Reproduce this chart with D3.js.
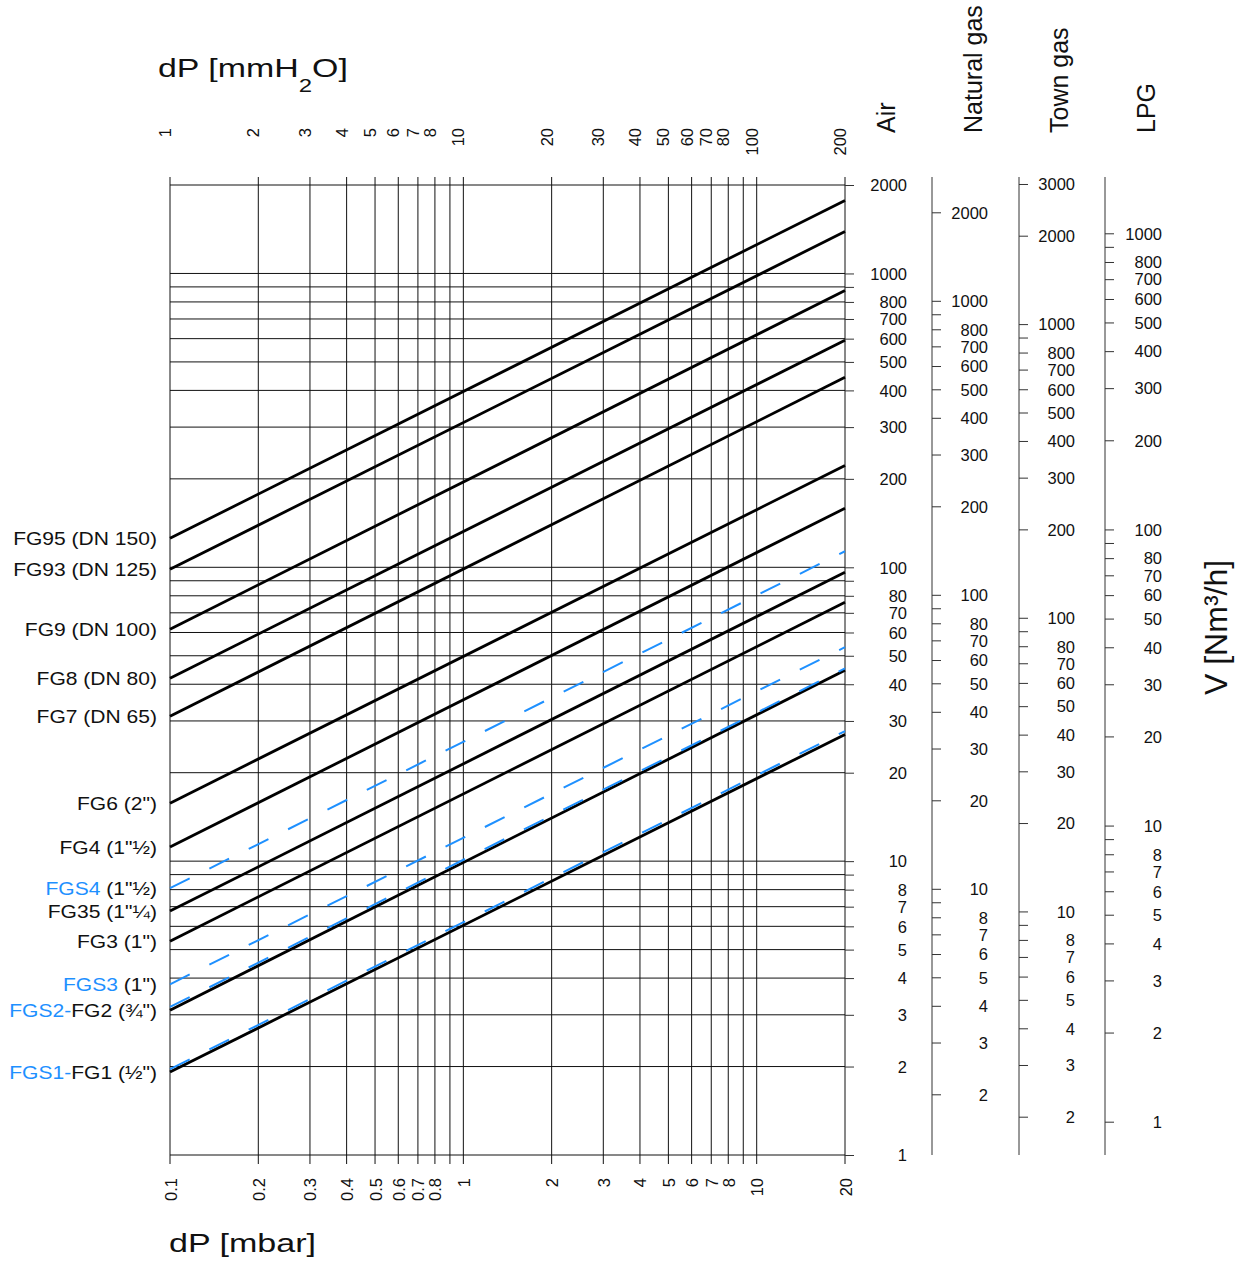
<!DOCTYPE html>
<html>
<head>
<meta charset="utf-8">
<script src="https://cdn.jsdelivr.net/npm/d3@7"></script>
<style>
  body { margin: 0; background: #fff; }
  svg text { font-family: "Liberation Sans", Arial, sans-serif; white-space: pre; }
</style>
</head>
<body>
<div id="chart"></div>
<script>
// air flow [Nm3/h] read at the two ends of each line (0.1 mbar and 20 mbar)
var blackNames = ["FG95", "FG93", "FG9", "FG8", "FG7", "FG6", "FG4", "FG35", "FG3", "FG2", "FG1"];
var blackQ01 = [125.5, 98.4, 61.6, 41.9, 31.1, 15.75, 11.17, 6.76, 5.34, 3.11, 1.915];
var blackQ20 = [1772, 1389, 875, 592, 443, 222, 158.8, 96.2, 76.0, 44.6, 27.0];

var blueNames = ["FGS4", "FGS3", "FGS2", "FGS1"];
var blueQ01 = [8.09, 3.81, 3.19, 1.96];
var blueQ20 = [113.4, 53.5, 45.3, 27.7];

// left labels: blue part, black part, line they sit on
var labelBlue = ["", "", "", "", "", "", "", "FGS4", "", "", "FGS3", "FGS2-", "FGS1-"];
var labelBlack = ["FG95 (DN 150)", "FG93 (DN 125)", "FG9 (DN 100)", "FG8 (DN 80)", "FG7 (DN 65)",
  "FG6 (2\")", "FG4 (1\"½)", " (1\"½)", "FG35 (1\"¼)", "FG3 (1\")", " (1\")", "FG2 (¾\")", "FG1 (½\")"];
var labelAt = ["FG95", "FG93", "FG9", "FG8", "FG7", "FG6", "FG4", "FGS4", "FG35", "FG3", "FGS3", "FG2", "FG1"];

// x axes
var mbarGrid = [0.1, 0.2, 0.3, 0.4, 0.5, 0.6, 0.7, 0.8, 0.9, 1, 2, 3, 4, 5, 6, 7, 8, 9, 10, 20];
var mbarLabels = [0.1, 0.2, 0.3, 0.4, 0.5, 0.6, 0.7, 0.8, 1, 2, 3, 4, 5, 6, 7, 8, 10, 20];
var mmLabels = [1, 2, 3, 4, 5, 6, 7, 8, 10, 20, 30, 40, 50, 60, 70, 80, 100, 200];
var mbarPerMm = 0.0980665;

// flow axes
var airTicks = [1, 2, 3, 4, 5, 6, 7, 8, 9, 10, 20, 30, 40, 50, 60, 70, 80, 90, 100,
  200, 300, 400, 500, 600, 700, 800, 900, 1000, 2000];
var airLabels = [1, 2, 3, 4, 5, 6, 7, 8, 10, 20, 30, 40, 50, 60, 70, 80, 100,
  200, 300, 400, 500, 600, 700, 800, 1000, 2000];
var ngTicks = [2, 3, 4, 5, 6, 7, 8, 9, 10, 20, 30, 40, 50, 60, 70, 80, 90, 100,
  200, 300, 400, 500, 600, 700, 800, 900, 1000, 2000];
var ngLabels = [2, 3, 4, 5, 6, 7, 8, 10, 20, 30, 40, 50, 60, 70, 80, 100,
  200, 300, 400, 500, 600, 700, 800, 1000, 2000];
var tgTicks = [2, 3, 4, 5, 6, 7, 8, 9, 10, 20, 30, 40, 50, 60, 70, 80, 90, 100,
  200, 300, 400, 500, 600, 700, 800, 900, 1000, 2000, 3000];
var tgLabels = [2, 3, 4, 5, 6, 7, 8, 10, 20, 30, 40, 50, 60, 70, 80, 100,
  200, 300, 400, 500, 600, 700, 800, 1000, 2000, 3000];
var lpgTicks = [1, 2, 3, 4, 5, 6, 7, 8, 9, 10, 20, 30, 40, 50, 60, 70, 80, 90, 100,
  200, 300, 400, 500, 600, 700, 800, 900, 1000];
var lpgLabels = [1, 2, 3, 4, 5, 6, 7, 8, 10, 20, 30, 40, 50, 60, 70, 80, 100,
  200, 300, 400, 500, 600, 700, 800, 1000];

var gasNames = ["Air", "Natural gas", "Town gas", "LPG"];

var w = 1246, h = 1264;
var plotL = 170, plotR = 845, plotT = 185, plotB = 1155;
var blue = "#1e90ff";
var tickFont = "16.5px";

var svg = d3.select("#chart").append("svg")
  .attr("width", w)
  .attr("height", h);

var x = d3.scaleLog().domain([0.1, 20]).range([plotL, plotR]);
var xmm = d3.scaleLog().domain([0.1 / mbarPerMm, 20 / mbarPerMm]).range([plotL, plotR]);

var yAir = d3.scaleLog().domain([1, 2000]).range([plotB, plotT]);
var yNG = d3.scaleLog().domain([2, 2000]).range([1094.3, 212.3]);
var yTG = d3.scaleLog().domain([2, 2000]).range([1116.7, 235.7]);
var yLPG = d3.scaleLog().domain([1, 1000]).range([1121.7, 233.3]);

// grid
svg.append("g").selectAll("line")
  .data(mbarGrid)
  .enter()
  .append("line")
  .attr("x1", function(d) { return x(d); })
  .attr("x2", function(d) { return x(d); })
  .attr("y1", plotT - 8)
  .attr("y2", plotB + 9)
  .attr("stroke", "#111")
  .attr("stroke-width", 1);

svg.append("g").selectAll("line")
  .data(airTicks)
  .enter()
  .append("line")
  .attr("x1", plotL)
  .attr("x2", plotR)
  .attr("y1", function(d) { return yAir(d); })
  .attr("y2", function(d) { return yAir(d); })
  .attr("stroke", "#111")
  .attr("stroke-width", 1);

// bottom labels (mbar)
var bx = svg.append("g")
  .attr("transform", "translate(0," + plotB + ")")
  .call(d3.axisBottom(x).tickValues(mbarLabels).tickSize(0).tickFormat(function(d) { return String(d); }));
bx.select(".domain").remove();
bx.selectAll("text")
  .attr("transform", "rotate(-90)")
  .attr("x", -23)
  .attr("y", 6)
  .attr("dy", 0)
  .attr("fill", "#111")
  .style("text-anchor", "end")
  .style("font-size", tickFont);

// top labels (mmH2O)
var tx = svg.append("g")
  .attr("transform", "translate(0," + plotT + ")")
  .call(d3.axisTop(xmm).tickValues(mmLabels).tickSize(0).tickFormat(function(d) { return String(d); }));
tx.select(".domain").remove();
tx.selectAll("text")
  .attr("transform", "rotate(-90)")
  .attr("x", 57)
  .attr("y", 3)
  .attr("dy", 0)
  .attr("fill", "#111")
  .style("text-anchor", "end")
  .style("font-size", tickFont);

// flow axes
function flowAxis(scale, ticks, labels, ax, labelRight, drawLine) {
  var g = svg.append("g")
    .attr("transform", "translate(" + ax + ",0)")
    .call(d3.axisRight(scale).tickValues(ticks).tickSize(9)
      .tickFormat(function(d) { return labels.indexOf(d) >= 0 ? String(d) : ""; }));
  g.select(".domain").remove();
  g.selectAll(".tick line").attr("stroke", "#333");
  g.selectAll("text")
    .attr("x", labelRight - ax)
    .attr("dy", "0.35em")
    .attr("fill", "#111")
    .style("text-anchor", "end")
    .style("font-size", tickFont);
  if (drawLine) {
    g.append("line")
      .attr("x1", 0).attr("x2", 0)
      .attr("y1", plotT - 8).attr("y2", plotB)
      .attr("stroke", "#333");
  }
}
flowAxis(yAir, airTicks, airLabels, plotR, 907, false);
flowAxis(yNG, ngTicks, ngLabels, 932, 988, true);
flowAxis(yTG, tgTicks, tgLabels, 1019, 1075, true);
flowAxis(yLPG, lpgTicks, lpgLabels, 1105, 1162, true);

// device lines
var line = d3.line()
  .x(function(d) { return x(d[0]); })
  .y(function(d) { return yAir(d[1]); });

svg.append("g").selectAll("path")
  .data(blackNames)
  .enter()
  .append("path")
  .attr("d", function(d, i) { return line([[0.1, blackQ01[i]], [20, blackQ20[i]]]); })
  .attr("stroke", "#000")
  .attr("stroke-width", 2.8)
  .attr("fill", "none");

svg.append("g").selectAll("path")
  .data(blueNames)
  .enter()
  .append("path")
  .attr("d", function(d, i) { return line([[0.1, blueQ01[i]], [20, blueQ20[i]]]); })
  .attr("stroke", blue)
  .attr("stroke-width", 2)
  .attr("stroke-dasharray", "22 22")
  .attr("fill", "none");

// left labels
function startFlow(name) {
  var i = blackNames.indexOf(name);
  if (i >= 0) return blackQ01[i];
  return blueQ01[blueNames.indexOf(name)];
}

var lab = svg.append("g").selectAll("g")
  .data(labelAt)
  .enter()
  .append("g")
  .attr("transform", function(d) { return "translate(157," + (yAir(startFlow(d)) + 6.5) + ") scale(1.17,1)"; })
  .append("text")
  .attr("text-anchor", "end")
  .style("font-size", "18px");
lab.append("tspan")
  .attr("fill", blue)
  .text(function(d, i) { return labelBlue[i]; });
lab.append("tspan")
  .attr("fill", "#111")
  .text(function(d, i) { return labelBlack[i]; });

// titles
var t1 = svg.append("g")
  .attr("transform", "translate(158,77) scale(1.33,1)")
  .append("text")
  .attr("fill", "#111")
  .style("font-size", "25.5px");
t1.append("tspan").text("dP [mmH");
t1.append("tspan").attr("dy", 15).style("font-size", "18px").text("2");
t1.append("tspan").attr("dy", -15).text("O]");

svg.append("g")
  .attr("transform", "translate(169,1252) scale(1.31,1)")
  .append("text")
  .attr("fill", "#111")
  .style("font-size", "26px")
  .text("dP [mbar]");

var gasX = [895, 981.7, 1068, 1155];
svg.append("g").selectAll("text")
  .data(gasNames)
  .enter()
  .append("text")
  .attr("transform", function(d, i) { return "translate(" + gasX[i] + ",133) rotate(-90)"; })
  .attr("fill", "#111")
  .style("font-size", "25px")
  .text(function(d) { return d; });

svg.append("text")
  .attr("transform", "translate(1227,695) rotate(-90)")
  .attr("fill", "#111")
  .style("font-size", "32px")
  .text("V [Nm³/h]");
</script>
</body>
</html>
